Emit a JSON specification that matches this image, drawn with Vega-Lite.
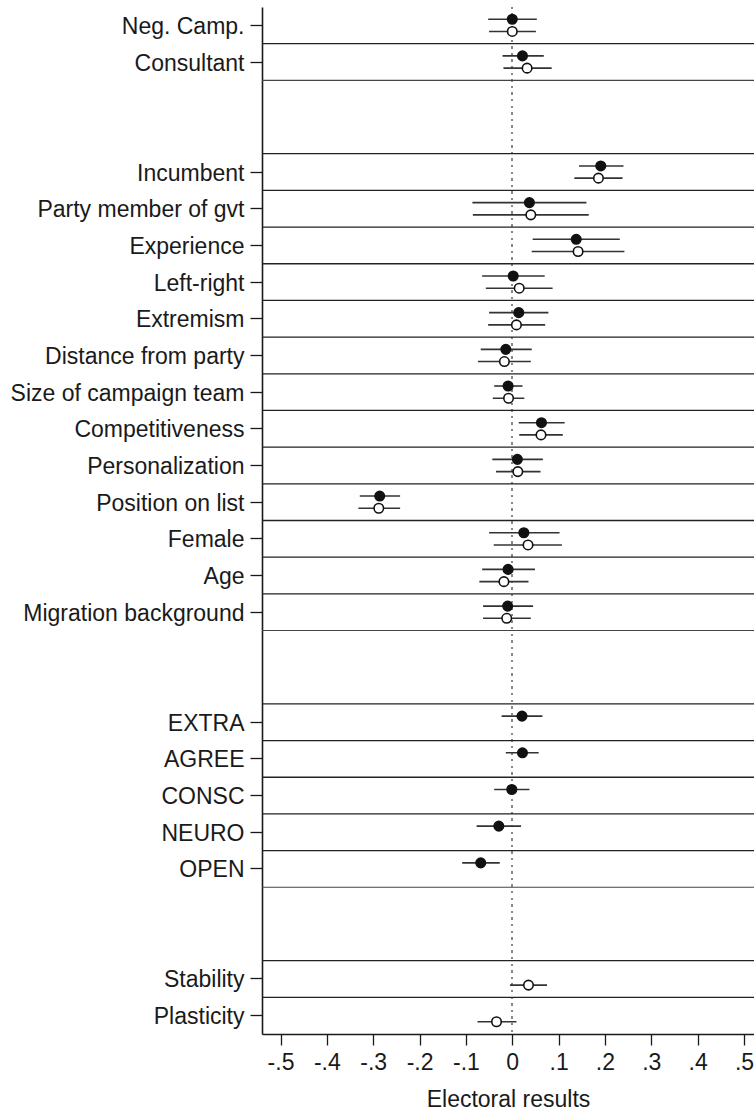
{
  "$schema": "https://vega.github.io/schema/vega-lite/v6.json",
  "width": 492,
  "height": 1027,
  "autosize": "none",
  "padding": {"left": 262, "top": 7, "right": 0, "bottom": 77},
  "background": "white",
  "config": {
    "view": {"stroke": null},
    "font": "Liberation Sans"
  },
  "data": {
    "values": [
      {"var": "Neg. Camp.", "model": "filled", "est": 0.000, "lo": -0.052, "hi": 0.053},
      {"var": "Neg. Camp.", "model": "hollow", "est": 0.000, "lo": -0.050, "hi": 0.051},
      {"var": "Consultant", "model": "filled", "est": 0.022, "lo": -0.021, "hi": 0.068},
      {"var": "Consultant", "model": "hollow", "est": 0.032, "lo": -0.019, "hi": 0.085},
      {"var": "Incumbent", "model": "filled", "est": 0.191, "lo": 0.144, "hi": 0.240},
      {"var": "Incumbent", "model": "hollow", "est": 0.186, "lo": 0.134, "hi": 0.238},
      {"var": "Party member of gvt", "model": "filled", "est": 0.037, "lo": -0.086, "hi": 0.160},
      {"var": "Party member of gvt", "model": "hollow", "est": 0.040, "lo": -0.085, "hi": 0.165},
      {"var": "Experience", "model": "filled", "est": 0.138, "lo": 0.044, "hi": 0.232},
      {"var": "Experience", "model": "hollow", "est": 0.142, "lo": 0.042, "hi": 0.242},
      {"var": "Left-right", "model": "filled", "est": 0.002, "lo": -0.065, "hi": 0.070},
      {"var": "Left-right", "model": "hollow", "est": 0.015, "lo": -0.057, "hi": 0.087},
      {"var": "Extremism", "model": "filled", "est": 0.014, "lo": -0.050, "hi": 0.078},
      {"var": "Extremism", "model": "hollow", "est": 0.009, "lo": -0.052, "hi": 0.071},
      {"var": "Distance from party", "model": "filled", "est": -0.014, "lo": -0.068, "hi": 0.042},
      {"var": "Distance from party", "model": "hollow", "est": -0.017, "lo": -0.074, "hi": 0.040},
      {"var": "Size of campaign team", "model": "filled", "est": -0.009, "lo": -0.039, "hi": 0.022},
      {"var": "Size of campaign team", "model": "hollow", "est": -0.008, "lo": -0.042, "hi": 0.026},
      {"var": "Competitiveness", "model": "filled", "est": 0.063, "lo": 0.014, "hi": 0.113},
      {"var": "Competitiveness", "model": "hollow", "est": 0.062, "lo": 0.015, "hi": 0.109},
      {"var": "Personalization", "model": "filled", "est": 0.011, "lo": -0.043, "hi": 0.066},
      {"var": "Personalization", "model": "hollow", "est": 0.012, "lo": -0.035, "hi": 0.061},
      {"var": "Position on list", "model": "filled", "est": -0.286, "lo": -0.329, "hi": -0.242},
      {"var": "Position on list", "model": "hollow", "est": -0.288, "lo": -0.332, "hi": -0.242},
      {"var": "Female", "model": "filled", "est": 0.025, "lo": -0.050, "hi": 0.102},
      {"var": "Female", "model": "hollow", "est": 0.034, "lo": -0.040, "hi": 0.107},
      {"var": "Age", "model": "filled", "est": -0.009, "lo": -0.065, "hi": 0.049},
      {"var": "Age", "model": "hollow", "est": -0.018, "lo": -0.071, "hi": 0.035},
      {"var": "Migration background", "model": "filled", "est": -0.010, "lo": -0.063, "hi": 0.045},
      {"var": "Migration background", "model": "hollow", "est": -0.012, "lo": -0.063, "hi": 0.040},
      {"var": "EXTRA", "model": "filled", "est": 0.021, "lo": -0.023, "hi": 0.065},
      {"var": "AGREE", "model": "filled", "est": 0.022, "lo": -0.014, "hi": 0.057},
      {"var": "CONSC", "model": "filled", "est": -0.001, "lo": -0.039, "hi": 0.037},
      {"var": "NEURO", "model": "filled", "est": -0.029, "lo": -0.077, "hi": 0.019},
      {"var": "OPEN", "model": "filled", "est": -0.068, "lo": -0.108, "hi": -0.027},
      {"var": "Stability", "model": "hollow", "est": 0.035, "lo": -0.005, "hi": 0.075},
      {"var": "Plasticity", "model": "hollow", "est": -0.034, "lo": -0.075, "hi": 0.009}
    ]
  },
  "encoding": {
    "y": {
      "field": "var",
      "type": "nominal",
      "sort": null,
      "scale": {
        "type": "band",
        "paddingInner": 0,
        "paddingOuter": 0,
        "domain": ["Neg. Camp.", "Consultant", "e1", "e2", "Incumbent", "Party member of gvt", "Experience", "Left-right", "Extremism", "Distance from party", "Size of campaign team", "Competitiveness", "Personalization", "Position on list", "Female", "Age", "Migration background", "e3", "e4", "EXTRA", "AGREE", "CONSC", "NEURO", "OPEN", "e5", "e6", "Stability", "Plasticity"]
      },
      "axis": {
        "title": null,
        "values": ["Neg. Camp.", "Consultant", "Incumbent", "Party member of gvt", "Experience", "Left-right", "Extremism", "Distance from party", "Size of campaign team", "Competitiveness", "Personalization", "Position on list", "Female", "Age", "Migration background", "EXTRA", "AGREE", "CONSC", "NEURO", "OPEN", "Stability", "Plasticity"],
        "labelFontSize": 23,
        "labelFont": "Liberation Sans",
        "labelColor": "#1a1a1a",
        "labelPadding": 6,
        "labelOffset": 1.5,
        "labelLimit": 400,
        "tickSize": 12,
        "tickColor": "#1a1a1a",
        "tickWidth": 1.3,
        "domainColor": "#1a1a1a",
        "domainWidth": 1.6,
        "grid": false
      }
    }
  },
  "layer": [
    {
      "mark": {"type": "rule", "color": "#888888", "strokeWidth": 1.3, "strokeDash": [1.6, 5]},
      "encoding": {"x": {"datum": 0, "type": "quantitative"}, "y": null}
    },
    {
      "transform": [
        {"aggregate": [{"op": "count", "as": "n"}], "groupby": ["var"]},
        {"filter": "datum.var != 'Neg. Camp.'"}
      ],
      "mark": {"type": "rule", "color": "#222222", "strokeWidth": 1.3},
      "encoding": {
        "y": {"field": "var", "type": "nominal", "sort": null, "bandPosition": 0}
      }
    },
    {
      "transform": [
        {"aggregate": [{"op": "count", "as": "n"}], "groupby": ["var"]},
        {"filter": {"field": "var", "oneOf": ["Consultant", "Migration background", "OPEN"]}}
      ],
      "mark": {"type": "rule", "color": "#444444", "strokeWidth": 1.1},
      "encoding": {
        "y": {"field": "var", "type": "nominal", "sort": null, "bandPosition": 1}
      }
    },
    {
      "mark": {"type": "rule", "color": "#333333", "strokeWidth": 1.6},
      "encoding": {
        "x": {"field": "lo", "type": "quantitative"},
        "x2": {"field": "hi"},
        "yOffset": {"field": "model", "type": "nominal", "scale": {"domain": ["filled", "hollow"], "paddingInner": 0, "paddingOuter": 0.5}}
      }
    },
    {
      "mark": {"type": "point", "shape": "circle", "opacity": 1, "strokeWidth": 1.6, "stroke": "#111111"},
      "encoding": {
        "x": {
          "field": "est",
          "type": "quantitative",
          "scale": {"domain": [-0.54, 0.5216], "nice": false, "zero": false},
          "axis": {
            "title": "Electoral results",
            "values": [-0.5, -0.4, -0.3, -0.2, -0.1, 0, 0.1, 0.2, 0.3, 0.4, 0.5],
            "labelExpr": "datum.value == 0 ? '0' : (datum.value < 0 ? '-' : '') + '.' + toString(round(abs(datum.value) * 10))",
            "labelFontSize": 23,
            "labelFont": "Liberation Sans",
            "labelColor": "#1a1a1a",
            "labelPadding": 6,
            "labelFlush": false,
            "labelOverlap": false,
            "tickSize": 11,
            "tickColor": "#1a1a1a",
            "tickWidth": 1.3,
            "domainColor": "#1a1a1a",
            "domainWidth": 1.6,
            "titleFontSize": 23,
            "titleFont": "Liberation Sans",
            "titleFontWeight": "normal",
            "titleColor": "#1a1a1a",
            "titlePadding": 14,
            "grid": false
          }
        },
        "yOffset": {"field": "model", "type": "nominal", "scale": {"domain": ["filled", "hollow"], "paddingInner": 0, "paddingOuter": 0.5}},
        "fill": {"field": "model", "type": "nominal", "scale": {"domain": ["filled", "hollow"], "range": ["#111111", "#ffffff"]}, "legend": null},
        "size": {"value": 90}
      }
    }
  ]
}
